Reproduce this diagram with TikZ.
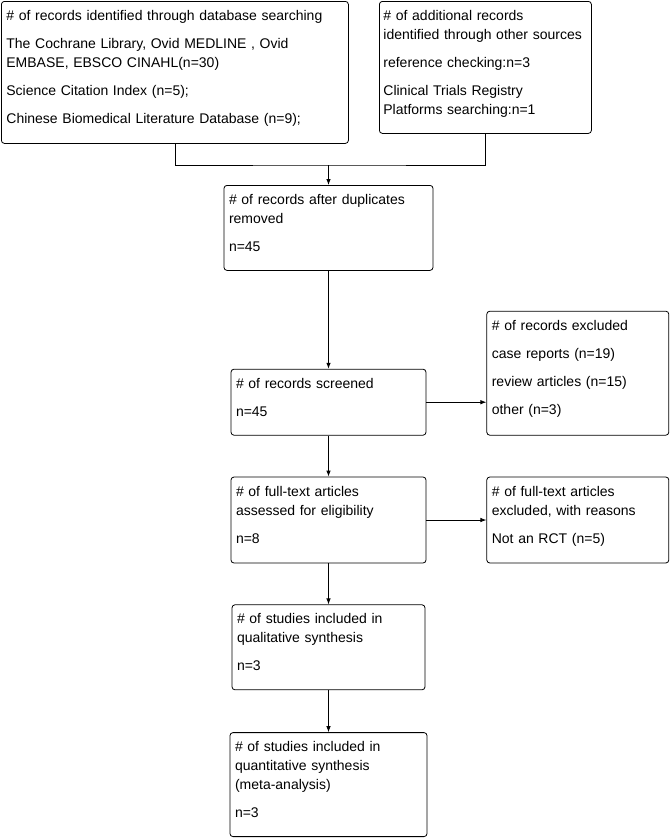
\documentclass[tikz,border=0pt]{standalone}
\usepackage{fontspec}
\setmainfont{Liberation Sans}
\usetikzlibrary{positioning,arrows.meta}

\begin{document}
\begin{tikzpicture}[x=1pt,y=-1pt,
    box/.style={draw,line width=0.8pt,rounded corners=3pt,inner xsep=5pt,inner ysep=5pt,
      text height=14pt,align=left,font=\fontsize{14}{19}\selectfont},
    flow/.style={line width=0.8pt,-{Latex[length=6pt,width=4.5pt]}},
    link/.style={line width=0.8pt}
]
\useasboundingbox (0,0) rectangle (672,838);

% Identification
\node[box,anchor=north west,text width=337pt,text depth=118pt] (ident) at (1,1)
  {\# of records identified through database searching\\[9pt]
   The Cochrane Library, Ovid MEDLINE , Ovid\\ EMBASE, EBSCO CINAHL(n=30)\\[9pt]
   Science Citation Index (n=5);\\[9pt]
   Chinese Biomedical Literature Database (n=9);};
\node[box,anchor=north west,inner xsep=4pt,text width=204pt,text depth=108pt] (other) at (379,1)
  {\# of additional records\\ identified through other sources\\[9pt]
   reference checking:n=3\\[9pt]
   Clinical Trials Registry\\ Platforms searching:n=1};

% Screening
\node[box,anchor=north,text width=199pt,text depth=61pt] (dedup) at (328.5,185)
  {\# of records after duplicates\\ removed\\[9pt] n=45};
\node[box,below=98pt of dedup,text width=185pt,text depth=42pt] (screen)
  {\# of records screened\\[9pt] n=45};
\node[box,above right=0pt and 60pt of screen.south east,text width=172pt,text depth=100pt] (excl)
  {\# of records excluded\\[9pt] case reports (n=19)\\[9pt] review articles (n=15)\\[9pt] other (n=3)};

% Eligibility
\node[box,below=41pt of screen,text width=185pt,text depth=62pt] (fulltext)
  {\# of full-text articles\\ assessed for eligibility\\[9pt] n=8};
\node[box,right=60pt of fulltext,text width=172pt,text depth=62pt] (ftexcl)
  {\# of full-text articles\\ excluded, with reasons\\[9pt] Not an RCT (n=5)};

% Included
\node[box,below=41pt of fulltext,text width=183pt,text depth=61pt] (qual)
  {\# of studies included in\\ qualitative synthesis\\[9pt] n=3};
\node[box,below=42pt of qual,text width=187pt,text depth=80pt] (quant)
  {\# of studies included in\\ quantitative synthesis\\ (meta-analysis)\\[9pt] n=3};

% Connectors
\coordinate[above=20pt of dedup.north] (merge);
\draw[link] (ident.south) |- (merge) -| (other.south);
\draw[flow] (merge) -- (dedup.north);
\draw[flow] (dedup.south) -- (screen.north);
\draw[flow] (screen.east) -- (screen.east -| excl.west);
\draw[flow] (screen.south) -- (fulltext.north);
\draw[flow] (fulltext.east) -- (ftexcl.west);
\draw[flow] (fulltext.south) -- (qual.north);
\draw[flow] (qual.south) -- (quant.north);

\end{tikzpicture}
\end{document}
